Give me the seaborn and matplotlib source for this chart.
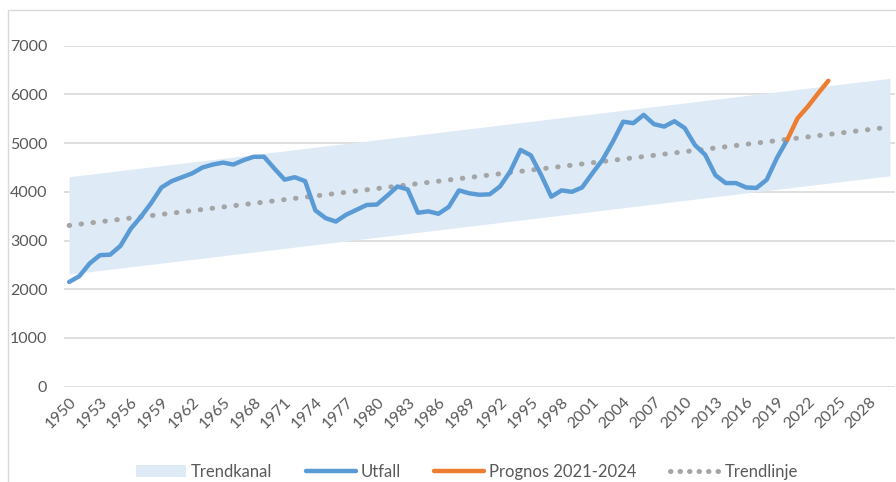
import numpy as np
import pandas as pd
import seaborn as sns
import matplotlib.pyplot as plt
from matplotlib.patches import Rectangle
from matplotlib.lines import Line2D

# Utfall 1950-2020
years = list(range(1950, 2021))
utfall = [2150, 2270, 2530, 2700, 2710, 2890, 3240, 3490, 3770, 4090,
          4220, 4300, 4380, 4500, 4560, 4600, 4560, 4650, 4720, 4720,
          4480, 4250, 4300, 4220, 3620, 3460, 3390, 3530, 3630, 3730,
          3740, 3920, 4110, 4050, 3570, 3600, 3550, 3690, 4030, 3970,
          3940, 3950, 4110, 4420, 4860, 4750, 4350, 3900, 4030, 4000,
          4090, 4380, 4660, 5030, 5440, 5410, 5580, 5390, 5340, 5450,
          5310, 4960, 4760, 4340, 4180, 4180, 4090, 4080, 4250, 4700,
          5070]

# Prognos 2021-2024 (starts from last utfall point)
prognos_years = [2020, 2021, 2022, 2023, 2024]
prognos = [5070, 5510, 5750, 6020, 6280]

# Trendlinje and trendkanal end points
trend_years = [1950, 2030]
trend_values = [3310, 5330]
band_lower = [2310, 4330]
band_upper = [4310, 6330]

tick_years = list(range(1950, 2029, 3))
y_ticks = [0, 1000, 2000, 3000, 4000, 5000, 6000, 7000]

blue = "#5B9BD5"
orange = "#ED7D31"
gray = "#A5A5A5"
band_col = "#DEEAF6"
grid_col = "#D9D9D9"
text_col = "#595959"

sns.set_style("white")
plt.rcParams['font.family'] = ['Lato', 'DejaVu Sans']

fig = plt.figure(figsize=(8.96, 4.82), dpi=100)
ax = fig.add_axes([64 / 896, 1 - 386.7 / 482, (895 - 64) / 896, (386.7 - 45.7) / 482])

# chart frame
fig.patches.append(Rectangle((8 / 896, -0.1), 1.2, 1 - 10 / 482 + 0.1,
                             transform=fig.transFigure, fill=False,
                             edgecolor=grid_col, linewidth=1))

ax.fill_between(trend_years, band_lower, band_upper, color=band_col, linewidth=0, zorder=1)

df_u = pd.DataFrame({"year": years, "value": utfall})
df_p = pd.DataFrame({"year": prognos_years, "value": prognos})
sns.lineplot(data=df_u, x="year", y="value", ax=ax, color=blue, linewidth=3.2,
             solid_capstyle="round", zorder=3)
sns.lineplot(data=df_p, x="year", y="value", ax=ax, color=orange, linewidth=3.2,
             solid_capstyle="round", zorder=4)
trend, = ax.plot(trend_years, trend_values, color=gray, linewidth=3.6,
                 linestyle=(0, (0.1, 2.3)), zorder=2)
trend.set_dash_capstyle("round")

ax.set_xlim(1949.5, 2030.5)
ax.set_ylim(0, 7000)
ax.set_yticks(y_ticks)
ax.set_xticks(tick_years)
ax.set_xticklabels([str(y) for y in tick_years], rotation=45, ha="right",
                   rotation_mode="anchor")
ax.yaxis.grid(True, color=grid_col, linewidth=1.2, zorder=0)
ax.set_axisbelow(True)
ax.tick_params(axis="both", length=0, labelsize=11.5, colors=text_col)
ax.tick_params(axis="y", pad=12)
ax.tick_params(axis="x", pad=6)
ax.set_xlabel("")
ax.set_ylabel("")
for s in ax.spines.values():
    s.set_visible(False)

handles = [
    Rectangle((0, 0), 1, 1, facecolor=band_col, edgecolor="none"),
    Line2D([], [], color=blue, linewidth=3.2, solid_capstyle="round"),
    Line2D([], [], color=orange, linewidth=3.2, solid_capstyle="round"),
    Line2D([], [], color=gray, linewidth=3.6, linestyle=(0, (0.1, 1.8)),
           dash_capstyle="round"),
]
labels = ["Trendkanal", "Utfall", "Prognos 2021-2024", "Trendlinje"]
fig.legend(handles, labels, loc="center", bbox_to_anchor=(467 / 896, 1 - 472 / 482),
           ncol=4, frameon=False, fontsize=12, handlelength=3.0,
           handletextpad=0.3, columnspacing=2.0, labelcolor=text_col)

fig.savefig("out.png", dpi=100)
